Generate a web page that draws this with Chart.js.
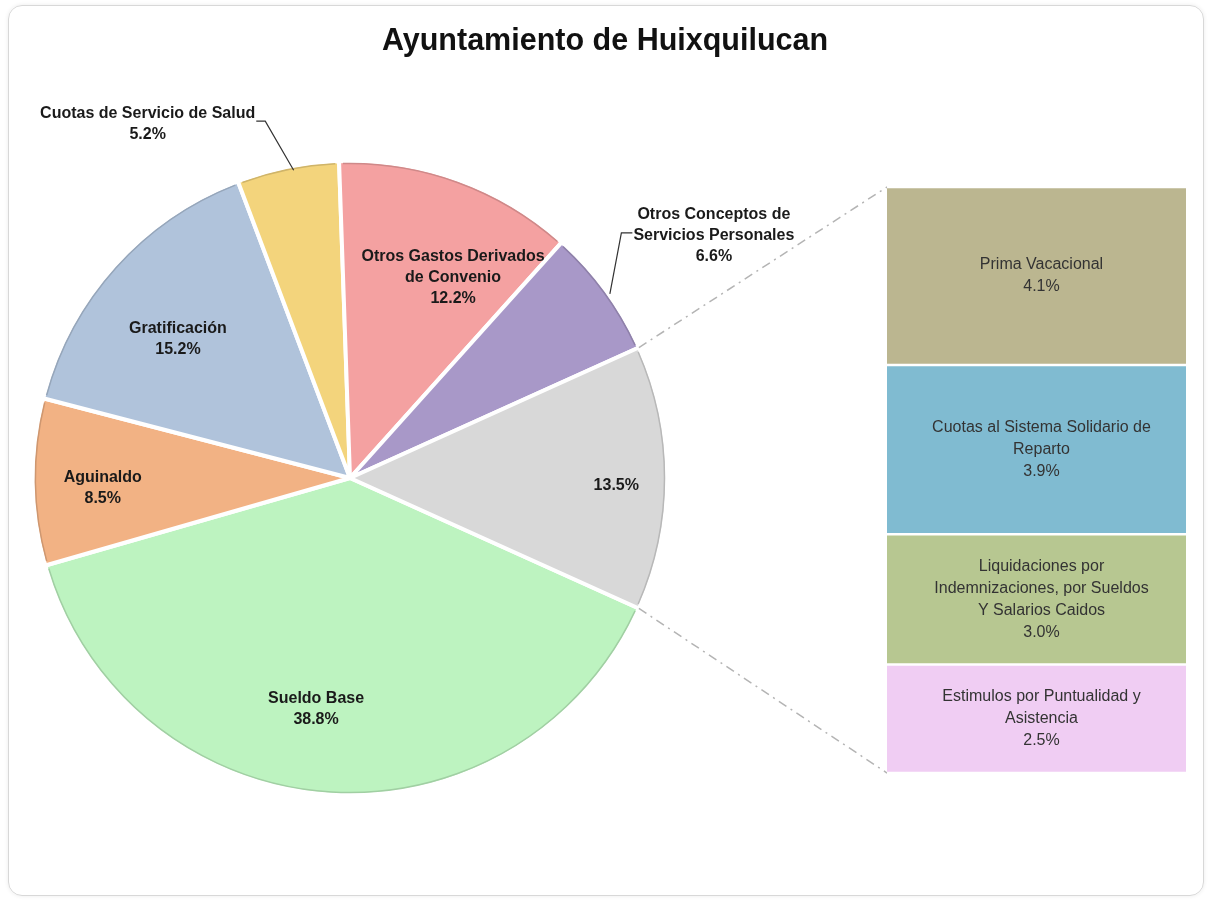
<!DOCTYPE html>
<html>
<head>
<meta charset="utf-8">
<title>Ayuntamiento de Huixquilucan</title>
<script src="https://cdn.jsdelivr.net/npm/chart.js@4.4.0/dist/chart.umd.min.js"></script>
<style>
  html, body { margin: 0; padding: 0; background: #fff; }
  #wrap { position: relative; width: 1210px; height: 902px; overflow: hidden; }
  #frame { position: absolute; left: 8px; top: 5px; width: 1194px; height: 889px;
           border: 1px solid #d8d8d8; border-radius: 14px; box-shadow: 0 0 4px rgba(0,0,0,0.08); }
  #pie { position: absolute; left: 0; top: 0; }
  #bar { position: absolute; left: 887px; top: 187px; }
</style>
</head>
<body>
<div id="wrap">
  <div id="frame"></div>
  <canvas id="pie" width="1210" height="902"></canvas>
  <canvas id="bar" width="299" height="586"></canvas>
</div>
<script>
// pie data (the last slice is broken out into the bar)
const pieLabels = ['Sueldo Base', 'Aguinaldo', 'Gratificación', 'Cuotas de Servicio de Salud',
    'Otros Gastos Derivados de Convenio', 'Otros Conceptos de Servicios Personales', 'Otros'];
const pieValues = [38.8, 8.5, 15.2, 5.2, 12.2, 6.6, 13.5];

// bar data, top to bottom
const barLabels = ['Prima Vacacional', 'Cuotas al Sistema Solidario de Reparto',
    'Liquidaciones por Indemnizaciones, por Sueldos Y Salarios Caidos', 'Estimulos por Puntualidad y Asistencia'];
const barValues = [4.1, 3.9, 3.0, 2.5];

const pieColors = ['#bdf3c0', '#f2b284', '#b0c3db', '#f3d47c', '#f4a1a1', '#a898c8', '#d8d8d8'];
const barColors = ['#bbb690', '#80bbd1', '#b7c791', '#f0cdf3'];

const FONT = '"Liberation Sans", Arial, sans-serif';

// how each pie label is laid out
const pieLabelStyle = [
    { r: 0.74, nx: -17, ny: -3, lines: ['Sueldo Base'] },
    { r: 0.78, ny: 7, lines: ['Aguinaldo'] },
    { r: 0.70, nx: -7, ny: 9, lines: ['Gratificación'] },
    { out: true, dx: -140, dy: -43, lines: ['Cuotas de Servicio de Salud'] },
    { r: 0.73, nx: 24, ny: 17, lines: ['Otros Gastos Derivados', 'de Convenio'] },
    { out: true, dx: 108, dy: -55, lines: ['Otros Conceptos de', 'Servicios Personales'] },
    { r: 0.84, ny: 8, lines: [] }
];
const barLabelLines = [
    ['Prima Vacacional'],
    ['Cuotas al Sistema Solidario de', 'Reparto'],
    ['Liquidaciones por', 'Indemnizaciones, por Sueldos', 'Y Salarios Caidos'],
    ['Estimulos por Puntualidad y', 'Asistencia']
];

function darker(hex, f) {
    const n = parseInt(hex.slice(1), 16);
    const r = Math.round(((n >> 16) & 255) * f), g = Math.round(((n >> 8) & 255) * f), b = Math.round((n & 255) * f);
    return 'rgb(' + r + ',' + g + ',' + b + ')';
}

// bar labels
const barLabelPlugin = {
    id: 'barLabels',
    afterDatasetsDraw(chart) {
        const ctx = chart.ctx;
        ctx.save();
        ctx.font = '16px ' + FONT;
        ctx.fillStyle = '#333';
        ctx.textAlign = 'center';
        ctx.textBaseline = 'middle';
        chart.data.datasets.forEach((ds, i) => {
            const el = chart.getDatasetMeta(i).data[0];
            const lines = barLabelLines[i].concat([ds.data[0].toFixed(1) + '%']);
            const cy = (el.y + el.base) / 2;
            const lh = 22;
            lines.forEach((t, k) => {
                ctx.fillText(t, el.x + 5, cy + (k - (lines.length - 1) / 2) * lh);
            });
        });
        ctx.restore();
    }
};

const barTotal = barValues.reduce((a, b) => a + b, 0);

const barChart = new Chart(document.getElementById('bar'), {
    type: 'bar',
    data: {
        labels: [''],
        datasets: barLabels.map((l, i) => ({
            label: l,
            data: [barValues[i]],
            backgroundColor: barColors[i],
            borderColor: 'rgba(255,255,255,0.75)',
            borderWidth: { top: 1.5, bottom: 1.5, left: 0, right: 0 },
            borderSkipped: false,
            barPercentage: 1,
            categoryPercentage: 1
        }))
    },
    options: {
        responsive: false,
        animation: false,
        layout: { padding: 0 },
        scales: {
            x: { display: false, stacked: true },
            y: { display: false, stacked: true, reverse: true, min: 0, max: barTotal }
        },
        plugins: { legend: { display: false }, tooltip: { enabled: false } }
    },
    plugins: [barLabelPlugin]
});

// title
const titlePlugin = {
    id: 'bigTitle',
    afterDraw(chart) {
        const ctx = chart.ctx;
        ctx.save();
        ctx.font = 'bold 30.5px ' + FONT;
        ctx.fillStyle = '#111';
        ctx.textAlign = 'center';
        ctx.textBaseline = 'middle';
        ctx.fillText('Ayuntamiento de Huixquilucan', 605, 42);
        ctx.restore();
    }
};

// dash-dot lines from the broken-out slice to the bar
const connectorPlugin = {
    id: 'connectors',
    afterDatasetsDraw(chart) {
        const meta = chart.getDatasetMeta(0);
        const arc = meta.data[meta.data.length - 1];
        const cv = barChart.canvas;
        const y = barChart.scales.y;
        const bx = cv.offsetLeft + barChart.chartArea.left;
        const tTop = cv.offsetTop + y.getPixelForValue(0);
        const tBot = cv.offsetTop + y.getPixelForValue(barTotal);
        const R = arc.outerRadius;
        const p1 = [arc.x + R * Math.cos(arc.startAngle), arc.y + R * Math.sin(arc.startAngle)];
        const p2 = [arc.x + R * Math.cos(arc.endAngle), arc.y + R * Math.sin(arc.endAngle)];
        const ctx = chart.ctx;
        ctx.save();
        ctx.strokeStyle = '#b4b4b4';
        ctx.lineWidth = 1.5;
        ctx.setLineDash([9, 5, 2, 5]);
        ctx.beginPath();
        ctx.moveTo(p1[0], p1[1]); ctx.lineTo(bx, tTop);
        ctx.moveTo(p2[0], p2[1]); ctx.lineTo(bx, tBot);
        ctx.stroke();
        ctx.restore();
    }
};

// slice labels, inside or outside with a leader line
const pieLabelPlugin = {
    id: 'pieLabels',
    afterDatasetsDraw(chart) {
        const ctx = chart.ctx;
        const meta = chart.getDatasetMeta(0);
        const vals = chart.data.datasets[0].data;
        ctx.save();
        // thin darker rim on each slice
        meta.data.forEach((arc, i) => {
            ctx.beginPath();
            ctx.strokeStyle = darker(pieColors[i], 0.85);
            ctx.lineWidth = 1.5;
            ctx.arc(arc.x, arc.y, arc.outerRadius - 2.5, arc.startAngle + 0.012, arc.endAngle - 0.012);
            ctx.stroke();
        });
        ctx.font = 'bold 16px ' + FONT;
        ctx.fillStyle = '#1a1a1a';
        ctx.textAlign = 'center';
        ctx.textBaseline = 'middle';
        const lh = 21;
        meta.data.forEach((arc, i) => {
            const st = pieLabelStyle[i];
            const mid = (arc.startAngle + arc.endAngle) / 2;
            const lines = st.lines.concat([vals[i].toFixed(1) + '%']);
            let cx, cy;
            if (st.out) {
                const ax = arc.x + arc.outerRadius * Math.cos(mid);
                const ay = arc.y + arc.outerRadius * Math.sin(mid);
                cx = ax + st.dx;
                cy = ay + st.dy;
                const w = Math.max(...lines.map(t => ctx.measureText(t).width));
                const side = st.dx < 0 ? cx + w / 2 + 1 : cx - w / 2 - 1;
                const ly = cy - 3;
                const ex = st.dx < 0 ? side + 9 : side - 11;
                ctx.save();
                ctx.strokeStyle = '#333';
                ctx.lineWidth = 1.2;
                ctx.beginPath();
                ctx.moveTo(side, ly);
                ctx.lineTo(ex, ly);
                ctx.lineTo(ax + (st.dx < 0 ? 6 : 4), ay + 3);
                ctx.stroke();
                ctx.restore();
            } else {
                cx = arc.x + arc.outerRadius * st.r * Math.cos(mid) + (st.nx || 0);
                cy = arc.y + arc.outerRadius * st.r * Math.sin(mid) + (st.ny || 0);
            }
            lines.forEach((t, k) => {
                ctx.fillText(t, cx, cy + (k - (lines.length - 1) / 2) * lh);
            });
        });
        ctx.restore();
    }
};

new Chart(document.getElementById('pie'), {
    type: 'pie',
    data: {
        labels: pieLabels,
        datasets: [{
            data: pieValues,
            backgroundColor: pieColors,
            borderColor: '#ffffff',
            borderWidth: 4,
            radius: 317
        }]
    },
    options: {
        responsive: false,
        animation: false,
        rotation: 114.3,
        layout: { padding: { left: 20, right: 530, top: 150, bottom: 96 } },
        plugins: { legend: { display: false }, tooltip: { enabled: false } }
    },
    plugins: [titlePlugin, connectorPlugin, pieLabelPlugin]
});
</script>
</body>
</html>
